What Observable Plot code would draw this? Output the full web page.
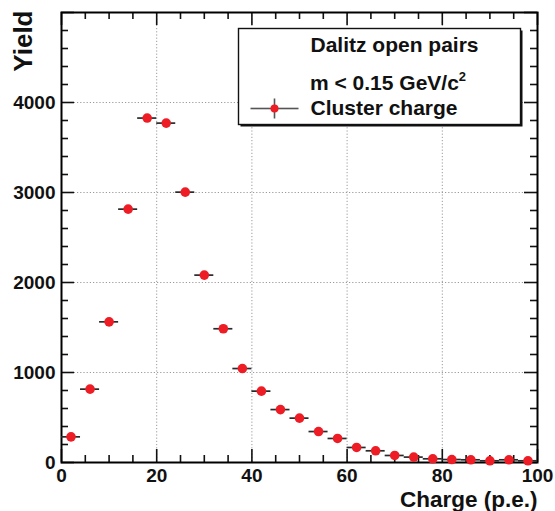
<!DOCTYPE html>
<html>
<head>
<meta charset="utf-8">
<script src="https://cdn.jsdelivr.net/npm/d3@7"></script>
<script src="https://cdn.jsdelivr.net/npm/@observablehq/plot@0.6"></script>
<style>
  html, body { margin: 0; padding: 0; background: #fff; }
  #chart svg { display: block; }
</style>
</head>
<body>
<div id="chart"></div>
<script>
// ---- data ----
const binCenters = [2, 6, 10, 14, 18, 22, 26, 30, 34, 38, 42, 46, 50, 54, 58, 62, 66, 70, 74, 78, 82, 86, 90, 94, 98];
const yields     = [285, 815, 1563, 2815, 3827, 3771, 3004, 2082, 1486, 1044, 793, 588, 493, 344, 267, 167, 130, 78, 60, 41, 33, 30, 19, 30, 19];
const binHalfWidth = 2;

const xMajorTicks = [0, 20, 40, 60, 80, 100];
const xMinorTicks = [5, 10, 15, 25, 30, 35, 45, 50, 55, 65, 70, 75, 85, 90, 95];
const yMajorTicks = [0, 1000, 2000, 3000, 4000, 5000];
const yMinorTicks = [200, 400, 600, 800, 1200, 1400, 1600, 1800, 2200, 2400, 2600, 2800, 3200, 3400, 3600, 3800, 4200, 4400, 4600, 4800];
const xGrid = [20, 40, 60, 80];
const yGrid = [1000, 2000, 3000, 4000];
const yLabelTicks = [0, 1000, 2000, 3000, 4000];

const legendLines = ["Dalitz open pairs", "Cluster charge"];
const massCut = "m < 0.15 GeV/c";
const massCutSup = "2";
const xTitle = "Charge (p.e.)";
const yTitle = "Yield";

const data = binCenters.map((x, i) => ({x, y: yields[i]}));

// ---- layout ----
const W = 555, H = 511;
const mL = 61, mR = 18, mT = 12, mB = 49;
const pw = W - mL - mR, ph = H - mT - mB;
const red = "#ee1d25";
const font = "'Liberation Sans', Arial, Helvetica, sans-serif";
const majLen = 13, minLen = 7;
const tickFont = 19, legFont = 21;

// legend box (pixels inside frame)
const lgL = 238 - mL, lgT = 28 - mT, lgR = mL + pw - 520, lgB = mT + ph - 124;

const chart = Plot.plot({
  width: W, height: H,
  marginLeft: mL, marginRight: mR, marginTop: mT, marginBottom: mB,
  style: {fontFamily: font, background: "#fff", color: "#000"},
  x: {domain: [0, 100], axis: null},
  y: {domain: [0, 5000], axis: null},
  marks: [
    // grid
    Plot.gridX(xGrid, {stroke: "#9a9a9a", strokeOpacity: 1, strokeWidth: 1, strokeDasharray: "1.2,2"}),
    Plot.gridY(yGrid, {stroke: "#9a9a9a", strokeOpacity: 1, strokeWidth: 1, strokeDasharray: "1.2,2"}),
    // ticks inside frame: bottom & top
    Plot.tickX(xMajorTicks, {x: d => d, insetTop: ph - majLen, stroke: "#111", strokeWidth: 1.6}),
    Plot.tickX(xMinorTicks, {x: d => d, insetTop: ph - minLen, stroke: "#111", strokeWidth: 1.6}),
    Plot.tickX(xMajorTicks, {x: d => d, insetBottom: ph - majLen, stroke: "#111", strokeWidth: 1.6}),
    Plot.tickX(xMinorTicks, {x: d => d, insetBottom: ph - minLen, stroke: "#111", strokeWidth: 1.6}),
    // ticks left & right
    Plot.tickY(yMajorTicks, {y: d => d, insetRight: pw - majLen, stroke: "#111", strokeWidth: 1.6}),
    Plot.tickY(yMinorTicks, {y: d => d, insetRight: pw - minLen, stroke: "#111", strokeWidth: 1.6}),
    Plot.tickY(yMajorTicks, {y: d => d, insetLeft: pw - majLen, stroke: "#111", strokeWidth: 1.6}),
    Plot.tickY(yMinorTicks, {y: d => d, insetLeft: pw - minLen, stroke: "#111", strokeWidth: 1.6}),
    // tick labels
    Plot.text(xMajorTicks, {x: d => d, text: d => String(d), frameAnchor: "bottom", lineAnchor: "top", dy: 6,
      fontSize: tickFont, fontWeight: "bold", fill: "#111"}),
    Plot.text(yLabelTicks, {y: d => d, text: d => String(d), frameAnchor: "left", lineAnchor: "middle", textAnchor: "end", dx: -6,
      fontSize: tickFont, fontWeight: "bold", fill: "#111"}),
    // frame
    Plot.frame({stroke: "#000", strokeWidth: 2}),
    // error bars
    Plot.ruleY(data, {x1: d => d.x - binHalfWidth, x2: d => d.x + binHalfWidth, y: "y", stroke: "#2a2a2a", strokeWidth: 1.7}),
    // markers
    Plot.dot(data, {x: "x", y: "y", r: 4.8, fill: red, stroke: null}),
    // legend: shadow + box
    Plot.frame({insetLeft: lgL + 2, insetTop: lgT + 2, insetRight: lgR - 2, insetBottom: lgB - 2, fill: "#111", stroke: null}),
    Plot.frame({insetLeft: lgL, insetTop: lgT, insetRight: lgR, insetBottom: lgB, fill: "#fff", stroke: "#111", strokeWidth: 1.4}),
    // legend marker line (horizontal & vertical)
    Plot.frame({insetLeft: 250 - mL, insetRight: mL + pw - 298, insetTop: 107.2 - mT, insetBottom: mT + ph - 108.8, fill: "#555", stroke: null}),
    Plot.frame({insetLeft: 273.2 - mL, insetRight: mL + pw - 274.8, insetTop: 98 - mT, insetBottom: mT + ph - 118, fill: "#555", stroke: null}),
    Plot.dot([0], {frameAnchor: "top-left", dx: 274 - mL, dy: 108 - mT, r: 4, fill: red, stroke: null}),
    // legend texts
    Plot.text([legendLines[0]], {text: d => d, frameAnchor: "top-left", lineAnchor: "middle", dx: 310 - mL, dy: 45 - mT, textAnchor: "start",
      fontSize: legFont, fontWeight: "bold", fill: "#111"}),
    Plot.text([legendLines[1]], {text: d => d, frameAnchor: "top-left", lineAnchor: "middle", dx: 310 - mL, dy: 107.5 - mT, textAnchor: "start",
      fontSize: legFont, fontWeight: "bold", fill: "#111"}),
    // axis titles
    Plot.text([xTitle], {text: d => d, frameAnchor: "bottom-right", lineAnchor: "middle", dx: 0, dy: 37, textAnchor: "end",
      fontSize: 22.5, fontWeight: "bold", fill: "#111"}),
    Plot.text([yTitle], {text: d => d, frameAnchor: "top-left", lineAnchor: "middle", dx: 23 - mL, dy: 10 - mT, textAnchor: "end", rotate: -90,
      fontSize: 26, fontWeight: "bold", fill: "#111"})
  ]
});

// mass-cut line with superscript (as real text)
const svg = d3.select(chart);
const t = svg.append("text")
  .attr("x", 310).attr("y", 83).attr("dy", "0.32em")
  .attr("text-anchor", "start")
  .attr("font-family", font).attr("font-size", legFont).attr("font-weight", "bold").attr("fill", "#111");
t.append("tspan").text(massCut);
t.append("tspan").attr("font-size", 13).attr("dy", "-0.7em").text(massCutSup);

document.getElementById("chart").appendChild(chart);
</script>
</body>
</html>
